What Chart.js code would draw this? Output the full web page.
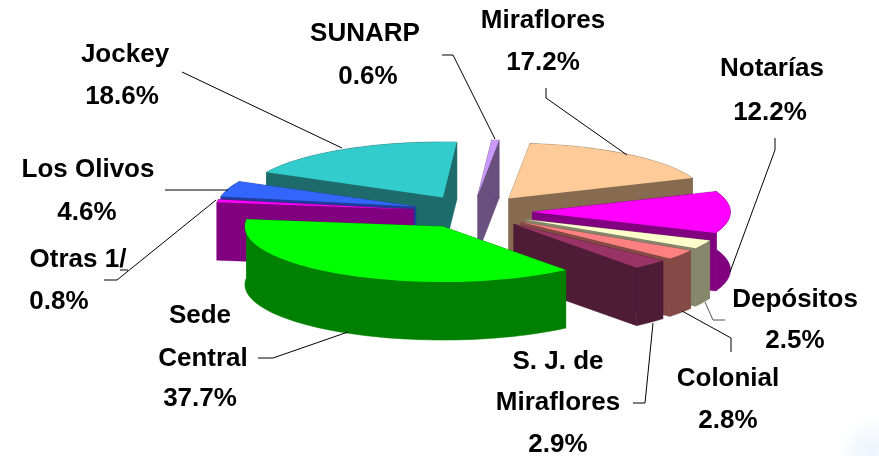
<!DOCTYPE html>
<html>
<head>
<meta charset="utf-8">
<style>
html,body{margin:0;padding:0;width:879px;height:456px;overflow:hidden;
background:radial-gradient(ellipse 34px 34px at 872px 452px,#eef5fc 0%,#f5f9fd 55%,#ffffff 100%);}
#wrap{position:relative;width:879px;height:456px;}
</style>
<script src="https://cdn.jsdelivr.net/npm/chart.js@4/dist/chart.umd.min.js"></script>
</head>
<body>
<div id="wrap"><canvas id="c" width="879" height="456"></canvas></div>
<script>
const categories = ['SUNARP','Miraflores','Notarías','Depósitos','Colonial','S. J. de Miraflores','Sede Central','Otras 1/','Los Olivos','Jockey'];
const shares = [0.6,17.2,12.2,2.5,2.8,2.9,37.7,0.8,4.6,18.6];
const topColors = ['#CC99FF','#FFCC99','#FF00FF','#FFFFCC','#FF8080','#993366','#00FF00','#FF00FF','#3366FF','#33CCCC'];
const wallColors = ['#69507F','#866B50','#800080','#86866C','#854A46','#4F1C36','#008000','#800080','#1F3D99','#1E6B6B'];

const labelBlocks = [
  {lines:[['SUNARP',365,41],['0.6%',368,84]]},
  {lines:[['Miraflores',543,28],['17.2%',543,70]]},
  {lines:[['Notarías',772,76],['12.2%',770,120]]},
  {lines:[['Depósitos',795,307],['2.5%',795,348]]},
  {lines:[['Colonial',728,386],['2.8%',728,428]]},
  {lines:[['S. J. de',558,369],['Miraflores',558,410],['2.9%',558,452]]},
  {lines:[['Sede',200,323],['Central',203,366],['37.7%',200,406]]},
  {lines:[['Otras 1/',78,267],['0.8%',59,309]]},
  {lines:[['Los Olivos',88,177],['4.6%',87,220]]},
  {lines:[['Jockey',125,62],['18.6%',122,104]]}
];
const leaders = [
  {c:'#000',p:[[442,55],[453,55],[495,139]]},
  {c:'#000',p:[[546,88],[546,98],[627,155]]},
  {c:'#000',p:[[775,138],[775,150],[730,272]]},
  {c:'#555',p:[[725,320],[713,320],[705,302]]},
  {c:'#000',p:[[731,352],[731,338],[682,311]]},
  {c:'#000',p:[[633,403],[645,403],[653,323]]},
  {c:'#000',p:[[258,358],[273,358],[348,332]]},
  {c:'#000',p:[[104,280],[117,280],[216,200]]},
  {c:'#000',p:[[165,190],[228,190]]},
  {c:'#000',p:[[182,72],[342,148]]},
  {c:'#000',p:[[120,270],[128,270]]}
];

const TILT = 0.28, DEPTH = 58, EXPLODE = 60;

const pie3d = {
  id:'pie3d',
  beforeDatasetsDraw(chart){
    const ctx = chart.ctx, meta = chart.getDatasetMeta(0);
    const items = meta.data.map((el,i)=>({el,i,mid:(el.startAngle+el.endAngle)/2}));
    items.sort((a,b)=>Math.sin(a.mid)-Math.sin(b.mid));
    for(const {el,i,mid} of items){
      const cy = el.y, R = el.outerRadius;
      const dx = Math.cos(mid)*EXPLODE, dy = Math.sin(mid)*EXPLODE;
      const ox = el.x + dx, oy = el.y + dy;
      const P = (a,r,z)=>[ox+Math.cos(a)*r, cy+TILT*(oy-cy+Math.sin(a)*r)+z];
      ctx.save();
      ctx.fillStyle = wallColors[i];
      ctx.strokeStyle = wallColors[i];
      ctx.lineWidth = 0.5;
      for(const a of [el.startAngle, el.endAngle]){
        ctx.beginPath();
        [P(a,0,0),P(a,R,0),P(a,R,DEPTH),P(a,0,DEPTH)].forEach((p,n)=>n?ctx.lineTo(p[0],p[1]):ctx.moveTo(p[0],p[1]));
        ctx.closePath();ctx.fill();ctx.stroke();
      }
      ctx.beginPath();
      const n = 60, pts=[];
      for(let k=0;k<=n;k++) pts.push(el.startAngle+(el.endAngle-el.startAngle)*k/n);
      pts.forEach((a,k)=>{const p=P(a,R,0);k?ctx.lineTo(p[0],p[1]):ctx.moveTo(p[0],p[1]);});
      pts.slice().reverse().forEach(a=>{const p=P(a,R,DEPTH);ctx.lineTo(p[0],p[1]);});
      ctx.closePath();ctx.fill();ctx.stroke();
      ctx.restore();

      ctx.save();
      ctx.translate(0,cy);ctx.scale(1,TILT);ctx.translate(0,-cy);
      ctx.translate(dx,dy);
      el.draw(ctx);
      ctx.restore();
    }
    return false;
  },
  afterDraw(chart){
    const ctx = chart.ctx;
    ctx.save();
    ctx.lineWidth = 1;
    for(const l of leaders){
      ctx.strokeStyle = l.c;
      ctx.beginPath();
      l.p.forEach((p,n)=>n?ctx.lineTo(p[0],p[1]):ctx.moveTo(p[0],p[1]));
      ctx.stroke();
    }
    ctx.fillStyle = '#000';
    ctx.font = 'bold 26px "Liberation Sans", Arial, sans-serif';
    ctx.textAlign = 'center';
    ctx.textBaseline = 'alphabetic';
    for(const b of labelBlocks) for(const [t,x,y] of b.lines) ctx.fillText(t,x,y);
    ctx.restore();
  }
};

new Chart(document.getElementById('c'),{
  type:'pie',
  data:{labels:categories,datasets:[{data:shares,backgroundColor:topColors,borderWidth:0,offset:0,hoverOffset:0}]},
  options:{
    responsive:false,animation:false,rotation:4,radius:198,
    layout:{padding:{left:66,bottom:32}},
    events:[],
    plugins:{legend:{display:false},tooltip:{enabled:false},title:{display:false}}
  },
  plugins:[pie3d]
});
</script>
</body>
</html>
